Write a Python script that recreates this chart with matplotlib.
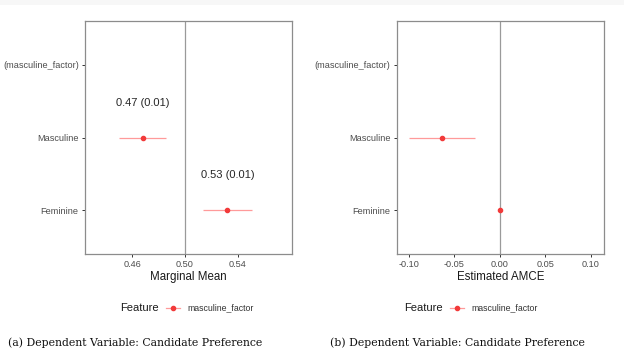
import matplotlib
matplotlib.use("Agg")
import matplotlib.pyplot as plt
from matplotlib.lines import Line2D
from matplotlib.patches import Rectangle

plt.rcParams['font.family'] = ['Liberation Sans', 'DejaVu Sans']

levels = ["Feminine", "Masculine", "(masculine_factor)"]

# panel a: marginal means
mm_est = [0.532, 0.468]
mm_err = [0.0185, 0.018]
mm_lab = ["0.53 (0.01)", "0.47 (0.01)"]
mm_ticks = [0.46, 0.50, 0.54]

# panel b: AMCE
amce_est = [0.0, -0.063]
amce_err = [0.0, 0.036]
amce_ticks = [-0.10, -0.05, 0.00, 0.05, 0.10]

pt_col = '#f23a3a'
bar_col = '#ff9a9a'
frame_col = '#8c8c8c'

fig = plt.figure(figsize=(6.24, 3.64), dpi=100)
fig.patch.set_facecolor('white')
# faint grey strip along the top edge
fig.add_artist(Rectangle((0, 1 - 5 / 364), 1, 5 / 364, transform=fig.transFigure,
                         color='#f7f7f7', lw=0, zorder=0))

def style(ax, xlim, ticks, ticklabels, xlabel, vline):
    ax.set_xlim(*xlim)
    ax.set_ylim(0.4, 3.6)
    ax.axvline(vline, color='#9a9a9a', lw=0.9, zorder=1)
    ax.set_yticks([1, 2, 3])
    ax.set_yticklabels(levels)
    ax.set_xticks(ticks)
    ax.set_xticklabels(ticklabels)
    ax.tick_params(labelsize=6.6, colors='#333333', labelcolor='#4d4d4d',
                   length=2.5, width=0.7, pad=2)
    for s in ax.spines.values():
        s.set_color(frame_col)
        s.set_linewidth(0.9)
    ax.set_xlabel(xlabel, fontsize=8.3, color='#1a1a1a', labelpad=1)

ys = [1, 2]

ax1 = fig.add_axes([0.1362, 0.3022, 0.3318, 0.6401])
ax1.errorbar(mm_est, ys, xerr=mm_err, fmt='o', ms=3, color=pt_col,
             ecolor=bar_col, elinewidth=0.9, capsize=0, zorder=3)
for x, y, t in zip(mm_est, ys, mm_lab):
    ax1.text(x, y + 0.48, t, ha='center', va='center', fontsize=8, color='#262626')
style(ax1, (0.4245, 0.5808), mm_ticks, ["0.46", "0.50", "0.54"], "Marginal Mean", 0.50)

ax2 = fig.add_axes([0.636, 0.3022, 0.3318, 0.6401])
ax2.errorbar(amce_est, ys, xerr=amce_err, fmt='o', ms=3, color=pt_col,
             ecolor=bar_col, elinewidth=0.9, capsize=0, zorder=3)
style(ax2, (-0.1128, 0.1143), amce_ticks,
      ["-0.10", "-0.05", "0.00", "0.05", "0.10"], "Estimated AMCE", 0.0)

# legends
for xf, xm in [(120, 166), (404, 450)]:
    fig.text(xf / 624, 1 - 308 / 364, "Feature", fontsize=8, color='#1a1a1a',
             ha='left', va='center')
    fig.add_artist(Line2D([xm / 624, (xm + 14) / 624], [1 - 308 / 364] * 2,
                          color=bar_col, lw=0.9))
    fig.add_artist(Line2D([(xm + 7) / 624], [1 - 308 / 364], marker='o', ms=3,
                          color=pt_col, lw=0))
    fig.text((xm + 21) / 624, 1 - 308 / 364, "masculine_factor", fontsize=6.3,
             color='#333333', ha='left', va='center')

# captions
for x, t in [(8, "(a) Dependent Variable: Candidate Preference"),
             (330, "(b) Dependent Variable: Candidate Preference")]:
    fig.text(x / 624, 1 - 343 / 364, t, fontsize=7.85, family='DejaVu Serif',
             color='#111111', ha='left', va='center')

fig.savefig('out.png', dpi=100)
